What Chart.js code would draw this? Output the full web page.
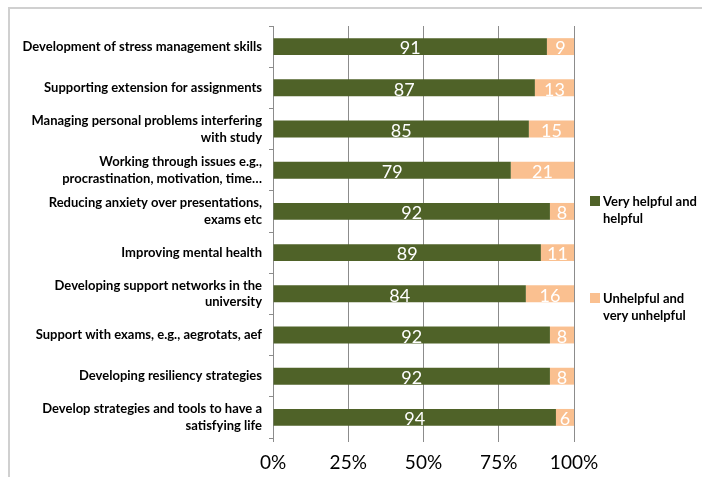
<!DOCTYPE html>
<html>
<head>
<meta charset="utf-8">
<script src="https://cdn.jsdelivr.net/npm/chart.js@4/dist/chart.umd.min.js"></script>
<style>
  html, body { margin: 0; padding: 0; background: #fff; }
  #wrap { position: relative; width: 702px; height: 477px; overflow: hidden; }
  #frame { position: absolute; left: 8px; top: 7px; width: 800px; height: 700px; border-top: 2px solid #d0d0d0; border-left: 2px solid #d0d0d0; box-sizing: border-box; }
  canvas { position: absolute; left: 0; top: 0; }
  .leg { position: absolute; font-family: Lato, "Open Sans", sans-serif; font-weight: bold; font-size: 13px; line-height: 17px; color: #000; }
  .leg .box { position: absolute; left: -13px; top: 3px; width: 10px; height: 10px; }
</style>
</head>
<body>
<div id="wrap">
  <div id="frame"></div>
  <canvas id="c" width="702" height="477"></canvas>
  <div class="leg" style="left:603px; top:193px;"><span class="box" style="background:#4F6228"></span>Very helpful and<br>helpful</div>
  <div class="leg" style="left:603px; top:290px;"><span class="box" style="background:#FAC090"></span>Unhelpful and<br>very unhelpful</div>
</div>
<script>
const categories = [
  "Development of stress management skills",
  "Supporting extension for assignments",
  ["Managing personal problems interfering", "with study"],
  ["Working through issues e.g.,", "procrastination, motivation, time…"],
  ["Reducing anxiety over presentations,", "exams etc"],
  "Improving mental health",
  ["Developing support networks in the", "university"],
  "Support with exams, e.g., aegrotats, aef",
  "Developing resiliency strategies",
  ["Develop strategies and tools to have a", "satisfying life"]
];
const helpful = [91, 87, 85, 79, 92, 89, 84, 92, 92, 94];
const unhelpful = [9, 13, 15, 21, 8, 11, 16, 8, 8, 6];
const seriesNames = ["Very helpful and helpful", "Unhelpful and very unhelpful"];
const xTickValues = [0, 25, 50, 75, 100];

const barLabels = {
  id: 'barLabels',
  afterDatasetsDraw(chart) {
    const ctx = chart.ctx;
    ctx.save();
    ctx.fillStyle = '#ffffff';
    ctx.font = '18px Lato, "Open Sans", sans-serif';
    ctx.textAlign = 'center';
    ctx.textBaseline = 'middle';
    chart.data.datasets.forEach((ds, di) => {
      const meta = chart.getDatasetMeta(di);
      meta.data.forEach((bar, i) => {
        const p = bar.getProps(['x', 'y', 'base'], true);
        ctx.fillText(String(ds.data[i]), (p.x + p.base) / 2, p.y + 2);
      });
    });
    ctx.restore();
  }
};

new Chart(document.getElementById('c'), {
  type: 'bar',
  data: {
    labels: categories,
    datasets: [
      { label: seriesNames[0], data: helpful, backgroundColor: '#4F6228', barPercentage: 0.41, categoryPercentage: 1 },
      { label: seriesNames[1], data: unhelpful, backgroundColor: '#FAC090', barPercentage: 0.41, categoryPercentage: 1 }
    ]
  },
  options: {
    indexAxis: 'y',
    responsive: false,
    animation: false,
    layout: { padding: { left: 0, right: 128, top: 26, bottom: 0 } },
    plugins: { legend: { display: false }, tooltip: { enabled: false } },
    scales: {
      x: {
        stacked: true,
        min: 0, max: 100,
        afterBuildTicks(scale) { scale.ticks = xTickValues.map(v => ({ value: v })); },
        afterFit(scale) { scale.height = 39; },
        grid: { color: '#8c8c8c', lineWidth: 1, tickLength: 4, drawTicks: true },
        border: { display: false },
        ticks: { color: '#000', font: { family: 'Lato, "Open Sans", sans-serif', size: 19 }, padding: 9, callback: v => v + '%', maxRotation: 0 }
      },
      y: {
        stacked: true,
        afterFit(scale) { scale.width = 273; },
        grid: { drawOnChartArea: false, drawTicks: true, tickLength: 4, color: '#8c8c8c' },
        border: { display: true, color: '#8c8c8c' },
        ticks: { color: '#000', font: { family: 'Lato, "Open Sans", sans-serif', size: 13, weight: 'bold', lineHeight: 1.3 }, padding: 7, autoSkip: false }
      }
    }
  },
  plugins: [barLabels]
});
</script>
</body>
</html>
